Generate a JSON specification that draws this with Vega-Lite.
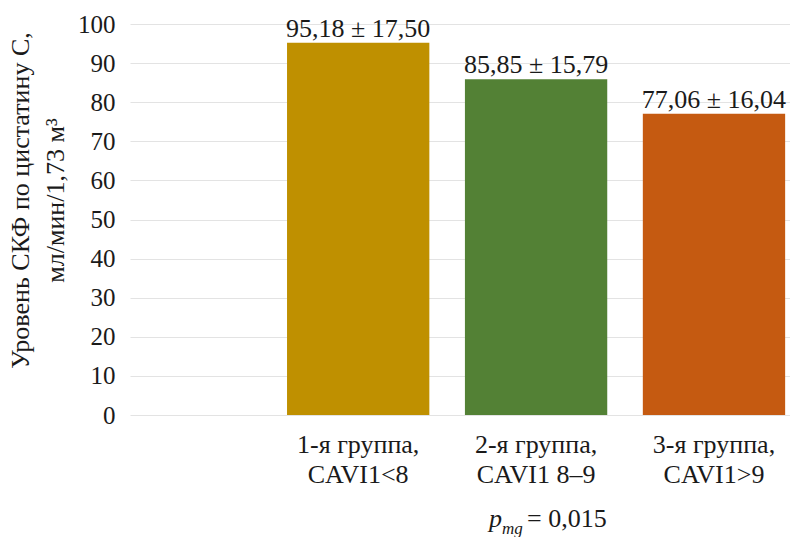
{
  "$schema": "https://vega.github.io/schema/vega-lite/v6.json",
  "width": 660,
  "height": 391,
  "autosize": "none",
  "padding": {"left": 130, "top": 24, "right": 0, "bottom": 122},
  "background": "white",
  "config": {
    "font": "Liberation Serif",
    "view": {"stroke": null},
    "axis": {"labelFont": "Liberation Serif", "titleFont": "Liberation Serif", "labelColor": "#1a1a1a", "titleColor": "#1a1a1a"}
  },
  "data": {
    "values": [
      {"group": "1-я группа, CAVI1<8", "value": 95.18, "label": "95,18 ± 17,50"},
      {"group": "2-я группа, CAVI1 8–9", "value": 85.85, "label": "85,85 ± 15,79"},
      {"group": "3-я группа, CAVI1>9", "value": 77.06, "label": "77,06 ± 16,04"}
    ]
  },
  "encoding": {
    "x": {
      "field": "group", "type": "nominal", "sort": null,
      "scale": {"paddingInner": 0.2, "paddingOuter": 0.455, "align": 0.97},
      "axis": {
        "title": null, "labelAngle": 0, "ticks": false, "domain": false,
        "labelFontSize": 26, "labelPadding": 16, "labelLineHeight": 30,
        "labelBaseline": "top",
        "labelExpr": "[split(datum.label, ', ')[0] + ',', split(datum.label, ', ')[1]]"
      }
    },
    "y": {
      "field": "value", "type": "quantitative",
      "scale": {"domain": [0, 100]},
      "axis": {
        "values": [0, 10, 20, 30, 40, 50, 60, 70, 80, 90, 100],
        "labelOverlap": false,
        "ticks": false, "domain": false, "grid": true, "gridColor": "#e3e3e3", "gridWidth": 1,
        "labelFontSize": 25, "labelPadding": 15,
        "title": ["Уровень СКФ по цистатину С,", "мл/мин/1,73 м³"],
        "titleFontSize": 26, "titleFontWeight": "normal", "titleLineHeight": 35,
        "titleX": -110, "titleY": 176, "titleBaseline": "middle", "titleAlign": "center"
      }
    }
  },
  "layer": [
    {
      "mark": {"type": "bar"},
      "encoding": {
        "color": {
          "field": "group", "type": "nominal", "legend": null,
          "scale": {"domain": ["1-я группа, CAVI1<8", "2-я группа, CAVI1 8–9", "3-я группа, CAVI1>9"], "range": ["#BF9000", "#538135", "#C55A11"]}
        }
      }
    },
    {
      "mark": {"type": "text", "fontSize": 26, "baseline": "alphabetic", "dy": -6, "color": "#1a1a1a"},
      "encoding": {
        "text": {"field": "label"}
      }
    },
    {
      "transform": [{"filter": "datum.group == '2-я группа, CAVI1 8–9'"}],
      "mark": {"type": "text", "text": "p", "fontSize": 26, "fontStyle": "italic", "align": "right", "baseline": "alphabetic", "dx": -34, "color": "#1a1a1a"},
      "encoding": {
        "y": {"datum": -28.6}
      }
    },
    {
      "transform": [{"filter": "datum.group == '2-я группа, CAVI1 8–9'"}],
      "mark": {"type": "text", "text": "mg", "fontSize": 17, "fontStyle": "italic", "align": "left", "baseline": "alphabetic", "dx": -34, "dy": 7, "color": "#1a1a1a"},
      "encoding": {
        "y": {"datum": -28.6}
      }
    },
    {
      "transform": [{"filter": "datum.group == '2-я группа, CAVI1 8–9'"}],
      "mark": {"type": "text", "text": "= 0,015", "fontSize": 26, "align": "left", "baseline": "alphabetic", "dx": -9, "color": "#1a1a1a"},
      "encoding": {
        "y": {"datum": -28.6}
      }
    }
  ]
}
